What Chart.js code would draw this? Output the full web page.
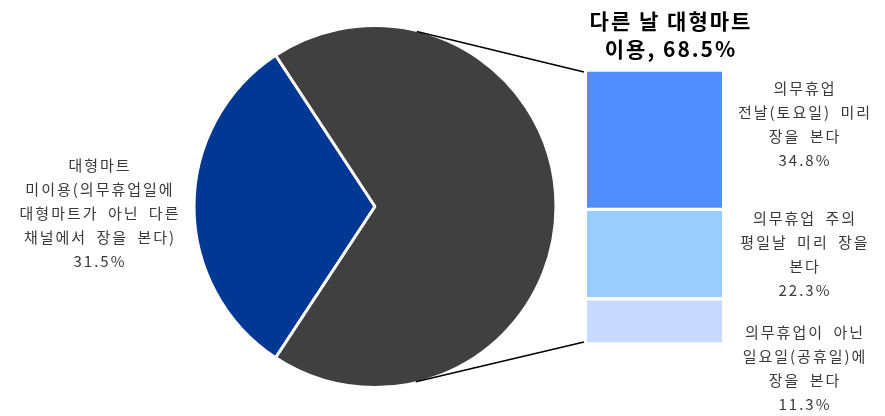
<!DOCTYPE html>
<html><head><meta charset="utf-8">
<script src="https://cdn.jsdelivr.net/npm/chart.js@4/dist/chart.umd.min.js"></script>
<style>
html,body{margin:0;padding:0;background:#fff;}
#wrap{position:relative;width:885px;height:416px;overflow:hidden;font-family:"Noto Sans CJK KR","Noto Sans",sans-serif;}
canvas{position:absolute;left:0;top:0;}
.lbl{position:absolute;text-align:center;color:#3a3a3a;font-size:15px;line-height:24px;white-space:pre;letter-spacing:2px;word-spacing:4px;}
.ttl{position:absolute;text-align:center;color:#000;font-size:21px;font-weight:bold;line-height:28px;white-space:pre;letter-spacing:2px;}
</style></head>
<body><div id="wrap">
<canvas id="pie" width="885" height="416"></canvas>
<canvas id="bar" width="885" height="416"></canvas>
</div>
<script>
// ---- data ----
const pieCategories = [
  ['대형마트', '미이용(의무휴업일에', '대형마트가 아닌 다른', '채널에서 장을 본다)'],
  ['다른 날 대형마트', '이용']
];
const pieValues = [31.5, 68.5];
const pieColors = ['#003893', '#404040'];

const barCategories = [
  ['의무휴업', '전날(토요일) 미리', '장을 본다'],
  ['의무휴업 주의', '평일날 미리 장을', '본다'],
  ['의무휴업이 아닌', '일요일(공휴일)에', '장을 본다']
];
const barValues = [34.8, 22.3, 11.3];
const barColors = ['#508eff', '#99ccff', '#c8daff'];

Chart.defaults.animation = false;
Chart.defaults.font.family = '"Noto Sans CJK KR", sans-serif';

const pieChart = new Chart(document.getElementById('pie'), {
  type: 'pie',
  data: {
    labels: pieCategories.map(l => l.join(' ')),
    datasets: [{ data: pieValues, backgroundColor: pieColors, borderColor: '#ffffff', borderWidth: 3 }]
  },
  options: {
    responsive: false,
    rotation: 270 - pieValues[0] * 3.6 / 2,
    layout: { padding: { left: 192, right: 327, top: 24, bottom: 27 } },
    plugins: { legend: { display: false }, tooltip: { enabled: false } }
  }
});

const barTotal = barValues.reduce((a, b) => a + b, 0);

const connectorPlugin = {
  id: 'connector',
  afterDraw(chart) {
    const arc = pieChart.getDatasetMeta(0).data[0];
    const cx = arc.x, cy = arc.y, r = arc.outerRadius - 1;
    const ca = chart.chartArea;
    const ctx = chart.ctx;
    const pts = [[ca.left, ca.top + 2, -1], [ca.left, ca.bottom - 2, 1]];
    ctx.save();
    ctx.strokeStyle = '#000';
    ctx.lineWidth = 1.5;
    pts.forEach(([px, py, s]) => {
      const dx = px - cx, dy = py - cy;
      const d = Math.hypot(dx, dy);
      const t0 = Math.atan2(dy, dx);
      const a = Math.acos(r / d);
      const t = t0 + s * a;
      ctx.beginPath();
      ctx.moveTo(cx + r * Math.cos(t), cy + r * Math.sin(t));
      ctx.lineTo(px - 3, py);
      ctx.stroke();
    });
    ctx.restore();
  }
};

const barChart = new Chart(document.getElementById('bar'), {
  type: 'bar',
  data: {
    labels: [''],
    datasets: barValues.map((v, i) => ({
      label: barCategories[i].join(' '),
      data: [v],
      backgroundColor: barColors[i],
      borderColor: '#ffffff',
      borderWidth: { top: 2, bottom: 2, left: 0, right: 0 },
      borderSkipped: false,
      barPercentage: 1,
      categoryPercentage: 1
    }))
  },
  options: {
    responsive: false,
    layout: { padding: { left: 587, right: 163, top: 70, bottom: 72 } },
    scales: {
      x: { display: false, stacked: true },
      y: { display: false, stacked: true, reverse: true, min: 0, max: barTotal }
    },
    plugins: { legend: { display: false }, tooltip: { enabled: false } }
  },
  plugins: [connectorPlugin]
});

// ---- text labels ----
const wrap = document.getElementById('wrap');
function addLabel(cls, text, cx, top, width) {
  const d = document.createElement('div');
  d.className = cls;
  d.textContent = text;
  d.style.left = (cx - width / 2) + 'px';
  d.style.top = top + 'px';
  d.style.width = width + 'px';
  wrap.appendChild(d);
}
addLabel('lbl', pieCategories[0].concat([pieValues[0].toFixed(1) + '%']).join('\n'), 100, 153, 210);
addLabel('ttl', pieCategories[1][0] + '\n' + pieCategories[1][1] + ', ' + pieValues[1].toFixed(1) + '%', 671, 6, 240);
const barLabelTops = [76, 206, 320];
barCategories.forEach((lines, i) => {
  addLabel('lbl', lines.concat([barValues[i].toFixed(1) + '%']).join('\n'), 805, barLabelTops[i], 180);
});
</script>
</body></html>
